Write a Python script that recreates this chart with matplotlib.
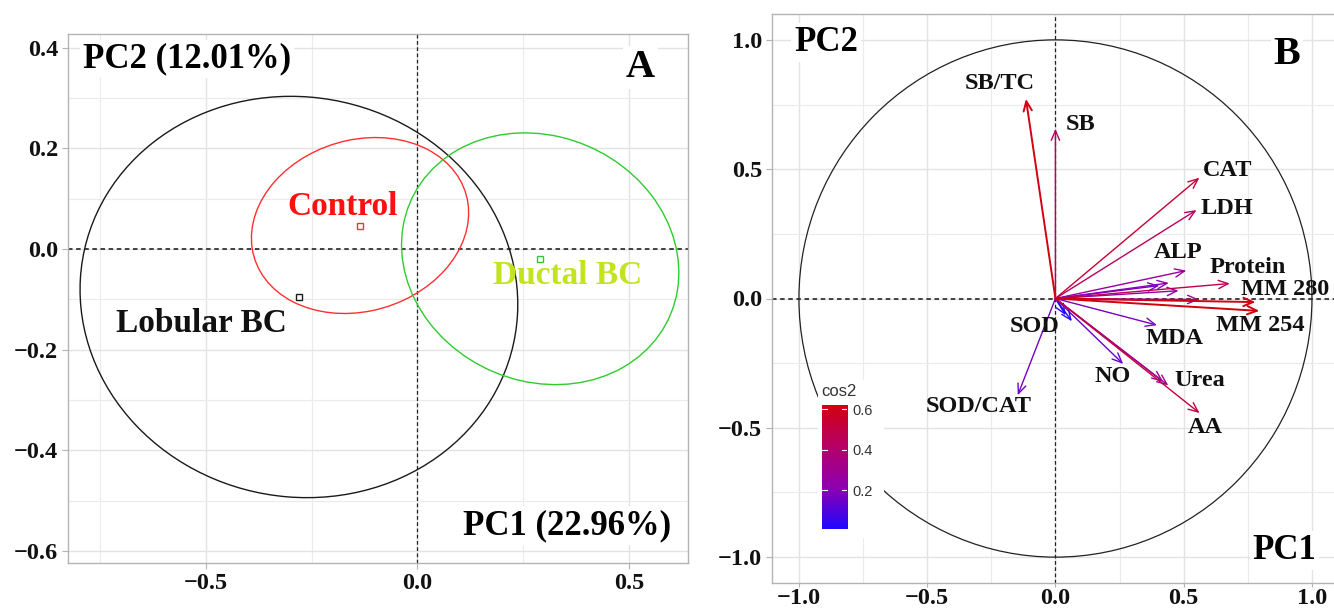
import numpy as np
import matplotlib
matplotlib.use("Agg")
import matplotlib.pyplot as plt
from matplotlib.patches import Ellipse, Circle, Rectangle
from matplotlib.colors import LinearSegmentedColormap, Normalize
from matplotlib.ticker import FixedLocator, FuncFormatter

# ---------------- data: panel A (individuals) ----------------
group_names = ["Lobular BC", "Control", "Ductal BC"]
group_cx = [-0.280, -0.1355, 0.2905]
group_cy = [-0.0955, 0.0465, -0.0195]
ell_width = [1.036, 0.518, 0.661]
ell_height = [0.796, 0.343, 0.493]
ell_angle = [-4, 10, -11]
ell_colors = ["#1a1a1a", "#FF3030", "#2ECC2E"]
label_colors = ["#111111", "#FF1010", "#C2E41E"]
label_x = [-0.51, -0.177, 0.356]
label_y = [-0.149, 0.085, -0.053]
pc1_label_A = "PC1 (22.96%)"
pc2_label_A = "PC2 (12.01%)"

# ---------------- data: panel B (variables) ----------------
var_names = ["SB/TC", "SB", "CAT", "LDH", "ALP", "Protein", "MM 280", "MM 254",
             "MDA", "SOD", "NO", "Urea", "AA", "SOD/CAT",
             "", "", "", "", "", ""]
var_x = [-0.115, 0.000, 0.561, 0.550, 0.510, 0.680, 0.780, 0.795,
         0.396, 0.064, 0.264, 0.440, 0.562, -0.147,
         0.442, 0.405, 0.480, 0.560, 0.040, 0.420]
var_y = [0.772, 0.656, 0.467, 0.342, 0.108, 0.058, -0.014, -0.048,
         -0.103, -0.088, -0.253, -0.336, -0.443, -0.374,
         0.060, 0.050, 0.030, -0.004, -0.065, -0.322]
lab_x = [-0.216, 0.096, 0.671, 0.668, 0.479, 0.750, 0.895, 0.797,
         0.463, -0.080, 0.222, 0.561, 0.585, -0.301]
lab_y = [0.832, 0.674, 0.494, 0.347, 0.178, 0.118, 0.035, -0.105,
         -0.154, -0.107, -0.301, -0.317, -0.497, -0.417]
cos2_min, cos2_max = 0.0066, 0.621
cbar_ticks = [0.2, 0.4, 0.6]

serif = "Liberation Serif"
sans = "Liberation Sans"

W, H = 1334, 610
fig = plt.figure(figsize=(W / 100, H / 100), dpi=100)
fmt = FuncFormatter(lambda v, p: f"{v:.1f}".replace("-", "\u2212"))


def style_axes(ax, xpad=3):
    for s in ax.spines.values():
        s.set_color("#B3B3B3")
        s.set_linewidth(1.0)
    ax.tick_params(which="major", length=4, width=0.8, color="#B3B3B3",
                   labelsize=17.5, pad=3, labelcolor="#111111")
    ax.tick_params(axis="x", which="major", pad=xpad)
    ax.tick_params(which="minor", length=0)
    for lab in ax.get_xticklabels() + ax.get_yticklabels():
        lab.set_fontfamily(serif)
        lab.set_fontweight("bold")
    ax.grid(which="major", color="#E3E3E3", lw=1.0, zorder=0)
    ax.grid(which="minor", color="#EBEBEB", lw=0.8, zorder=0)
    ax.set_axisbelow(True)


# ---------------- Panel A ----------------
axA = fig.add_axes([68 / W, (H - 563) / H, 620 / W, 529 / H])
axA.set_xlim(-0.826, 0.640)
axA.set_ylim(-0.624, 0.427)
axA.xaxis.set_major_locator(FixedLocator([-0.5, 0.0, 0.5]))
axA.xaxis.set_minor_locator(FixedLocator([-0.75, -0.25, 0.25]))
axA.yaxis.set_major_locator(FixedLocator([-0.6, -0.4, -0.2, 0.0, 0.2, 0.4]))
axA.yaxis.set_minor_locator(FixedLocator([-0.5, -0.3, -0.1, 0.1, 0.3]))
axA.xaxis.set_major_formatter(fmt)
axA.yaxis.set_major_formatter(fmt)
style_axes(axA)

axA.axhline(0, color="#333333", lw=1.3, ls=(0, (2.5, 2)), zorder=2)
axA.axvline(0, color="#222222", lw=0.9, ls=(0, (3, 2)), zorder=2)

for i, name in enumerate(group_names):
    e = Ellipse((group_cx[i], group_cy[i]), ell_width[i], ell_height[i],
                angle=ell_angle[i], fill=False, ec=ell_colors[i], lw=1.0, zorder=3)
    axA.add_patch(e)
    axA.plot(group_cx[i], group_cy[i], marker="s", ms=4.5, mfc="white",
             mec=ell_colors[i], mew=1.0, zorder=4)
    axA.text(label_x[i], label_y[i], name, color=label_colors[i], fontsize=24,
             fontfamily=serif, fontweight="bold", ha="center", va="center", zorder=5)

box = dict(facecolor="white", edgecolor="none", pad=2)
axA.text(-0.79, 0.377, pc2_label_A, fontsize=25, fontfamily=serif, fontweight="bold",
         ha="left", va="center", bbox=box, zorder=5)
axA.text(0.599, -0.55, pc1_label_A, fontsize=25, fontfamily=serif, fontweight="bold",
         ha="right", va="center", bbox=box, zorder=5)
axA.text(0.527, 0.361, "A", fontsize=29, fontfamily=serif, fontweight="bold",
         ha="center", va="center", bbox=box, zorder=5)

# ---------------- Panel B ----------------
axB = fig.add_axes([772 / W, (H - 583) / H, 565.6 / W, 569 / H])
axB.set_xlim(-1.105, 1.1)
axB.set_ylim(-1.1, 1.1)
axB.xaxis.set_major_locator(FixedLocator([-1.0, -0.5, 0.0, 0.5, 1.0]))
axB.xaxis.set_minor_locator(FixedLocator([-0.75, -0.25, 0.25, 0.75]))
axB.yaxis.set_major_locator(FixedLocator([-1.0, -0.5, 0.0, 0.5, 1.0]))
axB.yaxis.set_minor_locator(FixedLocator([-0.75, -0.25, 0.25, 0.75]))
axB.xaxis.set_major_formatter(fmt)
axB.yaxis.set_major_formatter(fmt)
style_axes(axB, xpad=0.5)
axB.tick_params(axis="x", which="major", length=3)

axB.axhline(0, color="#333333", lw=1.3, ls=(0, (2.5, 2)), zorder=2)
axB.axvline(0, color="#222222", lw=0.9, ls=(0, (3, 2)), zorder=2)
axB.add_patch(Circle((0, 0), 1.0, fill=False, ec="#222222", lw=0.9, zorder=2))

cmap = LinearSegmentedColormap.from_list(
    "cos2", [(0.0, "#1E08FF"), (0.315, "#8C00B4"), (0.64, "#B4006C"), (1.0, "#D4000E")])
norm = Normalize(cos2_min, cos2_max)

vx = np.array(var_x)
vy = np.array(var_y)
cos2 = vx ** 2 + vy ** 2
order = np.argsort(cos2)
for i in order:
    c = cmap(norm(cos2[i]))
    lw = 1.4 if cos2[i] > 0.55 else 1.0
    axB.annotate("", xy=(vx[i], vy[i]), xytext=(0, 0),
                 arrowprops=dict(arrowstyle="->,head_length=0.7,head_width=0.3",
                                 color=c, lw=lw, shrinkA=0, shrinkB=0),
                 zorder=3)
for i in range(len(lab_x)):
    axB.text(lab_x[i], lab_y[i], var_names[i], fontsize=17.5, fontfamily=serif,
             fontweight="bold", ha="center", va="center", color="#111111", zorder=5)

axB.text(-0.894, 0.990, "PC2", fontsize=25, fontfamily=serif, fontweight="bold",
         ha="center", va="center", bbox=box, zorder=5)
axB.text(0.892, -0.975, "PC1", fontsize=25, fontfamily=serif, fontweight="bold",
         ha="center", va="center", bbox=box, zorder=5)
axB.text(0.903, 0.945, "B", fontsize=29, fontfamily=serif, fontweight="bold",
         ha="center", va="center", bbox=box, zorder=5)

# legend background (covers grid and circle)
axB.add_patch(Rectangle((818 / W, (H - 538) / H), 66 / W, 158 / H,
                        transform=fig.transFigure, facecolor="white",
                        edgecolor="none", zorder=6))
cax = fig.add_axes([822.3 / W, (H - 529.3) / H, 25 / W, 124.3 / H])
cax.set_zorder(10)
grad = np.linspace(cos2_min, cos2_max, 256).reshape(-1, 1)
cax.imshow(grad, aspect="auto", cmap=cmap, norm=norm, origin="lower",
           extent=[0, 1, cos2_min, cos2_max])
cax.set_xlim(0, 1)
cax.set_ylim(cos2_min, cos2_max)
for t in cbar_ticks:
    cax.plot([0, 0.2], [t, t], color="white", lw=0.8)
    cax.plot([0.8, 1.0], [t, t], color="white", lw=0.8)
cax.set_xticks([])
cax.yaxis.tick_right()
cax.set_yticks(cbar_ticks)
cax.set_yticklabels([f"{t:.1f}" for t in cbar_ticks])
cax.tick_params(axis="y", length=0, pad=4, labelsize=10.5, labelcolor="#333333")
for lab in cax.get_yticklabels():
    lab.set_fontfamily(sans)
for s in cax.spines.values():
    s.set_visible(False)
fig.text(821 / W, (H - 396) / H, "cos2", fontsize=12, fontfamily=sans,
         color="#333333", ha="left", va="baseline", zorder=11)

fig.savefig("out.png", dpi=100)
